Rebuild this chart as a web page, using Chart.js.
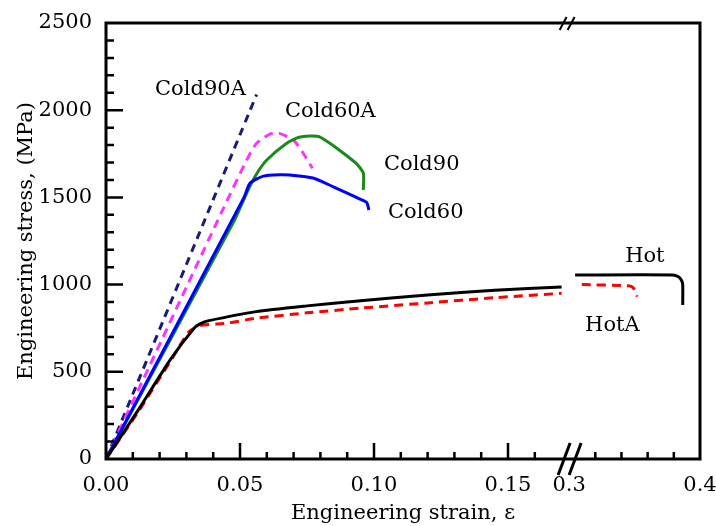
<!DOCTYPE html>
<html>
<head>
<meta charset="utf-8">
<script src="https://cdn.jsdelivr.net/npm/chart.js@4.4.0/dist/chart.umd.min.js"></script>
<style>
  body { margin: 0; background: #fff; }
</style>
</head>
<body>
<canvas id="myChart" width="716" height="526"></canvas>
<script>
// engineering strain / engineering stress (MPa)
var hotStrain = [0, 0.012, 0.024, 0.033, 0.0355, 0.038, 0.056, 0.075, 0.095, 0.12, 0.145, 0.170];
var hotStress = [0, 280, 570, 752, 778, 792, 845, 878, 908, 940, 968, 986];
var hotStrain2 = [0.3046, 0.379, 0.3835, 0.3858, 0.3868, 0.3868];
var hotStress2 = [1055, 1055, 1045, 1025, 1000, 883];

var hotAStrain = [0, 0.012, 0.024, 0.031, 0.035, 0.045, 0.056, 0.075, 0.095, 0.12, 0.145, 0.170];
var hotAStress = [0, 270, 560, 730, 765, 778, 807, 838, 865, 895, 925, 950];
var hotAStrain2 = [0.3097, 0.345, 0.3485, 0.3505, 0.3519];
var hotAStress2 = [1000, 993, 985, 965, 931];

var cold60Strain = [0, 0.0515, 0.0537, 0.0587, 0.065, 0.0687, 0.0772, 0.0848, 0.0948, 0.0973, 0.0981];
var cold60Stress = [0, 1500, 1581, 1622, 1630, 1628, 1611, 1561, 1490, 1470, 1428];

var cold90Strain = [0, 0.048, 0.0525, 0.056, 0.060, 0.0674, 0.072, 0.0795, 0.093, 0.096, 0.096];
var cold90Stress = [0, 1370, 1525, 1630, 1714, 1811, 1845, 1848, 1700, 1640, 1542];

var cold60AStrain = [0, 0.0438, 0.0525, 0.0562, 0.0612, 0.0647, 0.0699, 0.0736, 0.077];
var cold60AStress = [0, 1437, 1714, 1810, 1863, 1867, 1829, 1753, 1667];

var cold90AStrain = [0, 0.0562];
var cold90AStress = [0, 2090];

var yTicks = [0, 500, 1000, 1500, 2000, 2500];
var yMinorTicks = [100, 200, 300, 400, 600, 700, 800, 900, 1100, 1200, 1300, 1400,
                   1600, 1700, 1800, 1900, 2100, 2200, 2300, 2400];
var xTicks = [0, 0.05, 0.10, 0.15, 0.3, 0.4];
var xTickLabels = ['0.00', '0.05', '0.10', '0.15', '0.3', '0.4'];
var xMinorTicks = [0.01, 0.02, 0.03, 0.04, 0.06, 0.07, 0.08, 0.09, 0.11, 0.12, 0.13, 0.14, 0.16,
                   0.32, 0.34, 0.36, 0.38];

var curveNames = ['Cold90A', 'Cold60A', 'Cold90', 'Cold60', 'Hot', 'HotA'];

// broken x axis: 0 .. breakFrom, then breakTo .. 0.4 squeezed
var breakFrom = 0.1728, breakTo = 0.3, squeeze = 0.4884;
function toAxis(e) {
    if (e <= breakFrom) return e;
    return breakFrom + (e - breakTo) * squeeze;
}

function pts(strain, stress) {
    return strain.map(function (e, i) { return {x: toAxis(e), y: stress[i]}; });
}

var FONT = '"DejaVu Serif", serif';

function line(data, color, dash) {
    return {
        data: data,
        borderColor: color,
        borderWidth: 3,
        borderDash: dash || [],
        pointRadius: 0,
        fill: false,
        tension: 0.2
    };
}

// where the curve names sit (strain, stress of the text's left/middle)
var nameAt = {
    'Cold90A': [0.0183, 2116],
    'Cold60A': [0.0668, 1995],
    'Cold90': [0.1037, 1686],
    'Cold60': [0.1052, 1411],
    'Hot': [0.3428, 1158],
    'HotA': [0.3122, 768]
};

var framePlugin = {
    id: 'frame',
    afterDraw: function (chart) {
        var ctx = chart.ctx, a = chart.chartArea;
        var xs = chart.scales.x, ys = chart.scales.y;
        ctx.save();
        ctx.strokeStyle = '#000';
        ctx.lineWidth = 3;
        ctx.strokeRect(a.left, a.top, a.right - a.left, a.bottom - a.top);

        ctx.lineWidth = 2.5;
        ctx.beginPath();
        xTicks.forEach(function (v) {
            if (v <= 0 || v > breakFrom) return;
            var px = xs.getPixelForValue(toAxis(v));
            ctx.moveTo(px, a.bottom); ctx.lineTo(px, a.bottom - 16);
        });
        xMinorTicks.forEach(function (v) {
            var px = xs.getPixelForValue(toAxis(v));
            ctx.moveTo(px, a.bottom); ctx.lineTo(px, a.bottom - 7);
        });
        yTicks.forEach(function (v) {
            if (v <= 0 || v >= 2500) return;
            var py = ys.getPixelForValue(v);
            ctx.moveTo(a.left, py); ctx.lineTo(a.left + 17, py);
        });
        yMinorTicks.forEach(function (v) {
            var py = ys.getPixelForValue(v);
            ctx.moveTo(a.left, py); ctx.lineTo(a.left + 8, py);
        });
        ctx.stroke();

        // axis break marks
        var bx = xs.getPixelForValue(breakFrom);
        ctx.lineWidth = 3;
        ctx.beginPath();
        [-5, 6].forEach(function (d) {
            ctx.moveTo(bx + d - 6, a.bottom + 16); ctx.lineTo(bx + d + 6, a.bottom - 16);
        });
        ctx.stroke();
        ctx.lineWidth = 2;
        ctx.beginPath();
        [-6, 2].forEach(function (d) {
            ctx.moveTo(bx + d - 3.5, a.top + 7); ctx.lineTo(bx + d + 3.5, a.top - 6);
        });
        ctx.stroke();

        ctx.fillStyle = '#000';
        ctx.font = '21px ' + FONT;
        ctx.textBaseline = 'middle';
        ctx.textAlign = 'left';
        curveNames.forEach(function (n) {
            var p = nameAt[n];
            ctx.fillText(n, xs.getPixelForValue(toAxis(p[0])), ys.getPixelForValue(p[1]));
        });
        ctx.restore();
    }
};

var ctx = document.getElementById('myChart').getContext('2d');
var myChart = new Chart(ctx, {
    type: 'line',
    data: {
        datasets: [
            line(pts(hotStrain, hotStress), '#000000'),
            line(pts(hotStrain2, hotStress2), '#000000'),
            line(pts(hotAStrain, hotAStress), '#ff0000', [9, 6]),
            line(pts(hotAStrain2, hotAStress2), '#ff0000', [9, 6]),
            line(pts(cold60Strain, cold60Stress), '#0000ff'),
            line(pts(cold90Strain, cold90Stress), '#1a8a1a'),
            line(pts(cold60AStrain, cold60AStress), '#ff33ff', [9, 6]),
            line(pts(cold90AStrain, cold90AStress), '#1a1a7a', [8, 6])
        ]
    },
    options: {
        responsive: false,
        animation: false,
        layout: { padding: { top: 23, right: 16, left: 0, bottom: 0 } },
        plugins: { legend: { display: false }, tooltip: { enabled: false } },
        scales: {
            x: {
                type: 'linear',
                min: 0,
                max: toAxis(0.4),
                grid: { display: false, drawTicks: false },
                border: { display: false },
                afterBuildTicks: function (scale) {
                    scale.ticks = xTicks.map(function (v) { return {value: toAxis(v)}; });
                },
                afterFit: function (scale) {
                    scale.height = 67;
                    scale.paddingLeft = 0;
                    scale.paddingRight = 0;
                },
                ticks: {
                    autoSkip: false,
                    maxRotation: 0,
                    padding: 14,
                    color: '#000',
                    font: { family: FONT, size: 21 },
                    callback: function (value, index) { return xTickLabels[index]; }
                },
                title: {
                    display: true,
                    text: 'Engineering strain, ε',
                    color: '#000',
                    font: { family: FONT, size: 21 },
                    padding: { top: 0, bottom: 0 }
                }
            },
            y: {
                min: 0,
                max: 2500,
                grid: { display: false, drawTicks: false },
                border: { display: false },
                afterBuildTicks: function (scale) {
                    scale.ticks = yTicks.map(function (v) { return {value: v}; });
                },
                afterFit: function (scale) {
                    scale.width = 106;
                    scale.paddingTop = 0;
                    scale.paddingBottom = 0;
                },
                ticks: {
                    padding: 14,
                    color: '#000',
                    font: { family: FONT, size: 21 },
                    callback: function (value) { return String(value); }
                },
                title: {
                    display: true,
                    text: 'Engineering stress, (MPa)',
                    color: '#000',
                    font: { family: FONT, size: 21 },
                    padding: { top: 14, bottom: 0 }
                }
            }
        }
    },
    plugins: [framePlugin]
});
</script>
</body>
</html>
